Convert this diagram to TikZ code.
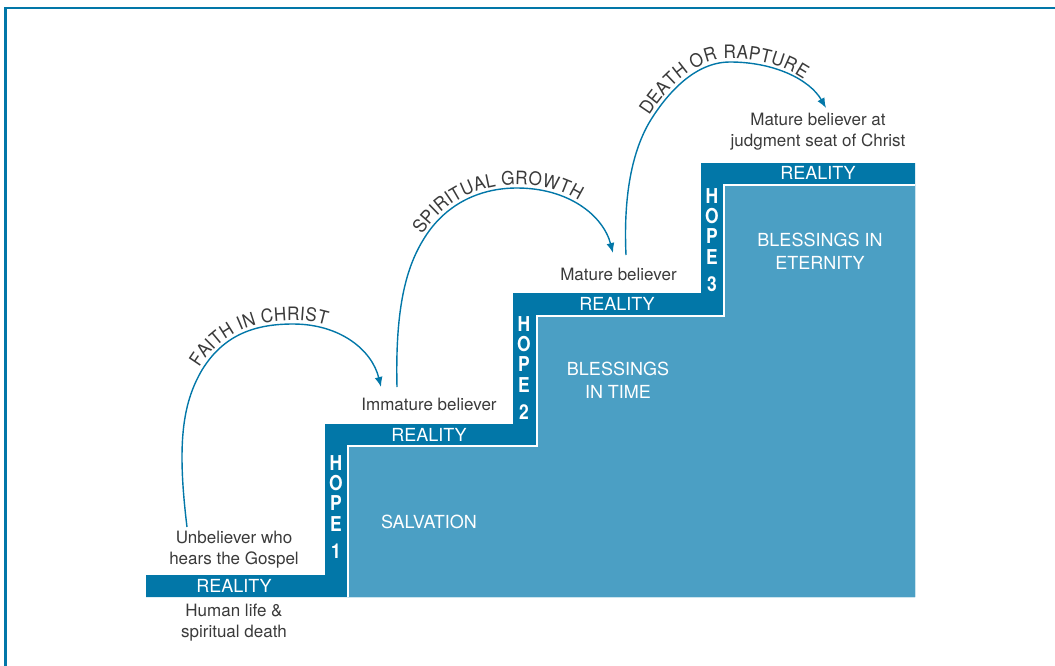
\documentclass[tikz,border=0pt]{standalone}
\usepackage{fontspec}
\setmainfont{TeX Gyre Heros}
\newfontfamily\arcfam{TeX Gyre Heros}[FakeStretch=0.93]
\newfontfamily\hopefam{TeX Gyre Heros}[FakeStretch=0.85]
\usetikzlibrary{arrows.meta,decorations.text}
\definecolor{stepdark}{HTML}{0277A8}
\definecolor{steplight}{HTML}{4B9FC4}
\definecolor{txtgray}{HTML}{3A3A3A}
\newcommand\arcfont{\arcfam\fontsize{18.5}{18.5}\selectfont}
\tikzset{
  reality/.style={text=white,font=\fontsize{18}{18}\selectfont,inner sep=0pt},
  darktext/.style={text=txtgray,font=\fontsize{17}{21}\selectfont,align=center,inner sep=0pt},
  areatext/.style={text=white,font=\fontsize{18}{23}\selectfont,align=center,inner sep=0pt},
  hope/.style={text=white,font=\hopefam\bfseries\fontsize{20.5}{20.3}\selectfont,align=center,anchor=north,inner sep=0pt},
  jump/.style={stepdark,line width=1.4pt,-{Latex[length=10pt,width=8pt]}},
  jumptext/.style={decorate,decoration={text along path,text color=txtgray,raise=3.5pt,text={#1}}}
}
\begin{document}
\begin{tikzpicture}[x=1pt,y=-1pt]
\useasboundingbox (0,0) rectangle (1055,665);
% frame
\draw[stepdark,line width=2.6pt] (5.5,680) -- (5.5,8) -- (1070,8);
% steps
\fill[stepdark] (146,597) -- (146,575) -- (325,575) -- (325,424) -- (513,424) -- (513,293)
  -- (701,293) -- (701,163) -- (915,163) -- (915,597) -- cycle;
\fill[steplight] (348,597) -- (348,446) -- (537,446) -- (537,316) -- (724,316) -- (724,185)
  -- (915,185) -- (915,597) -- cycle;
\draw[white,line width=1.3pt] (348,597) -- (348,446) -- (537,446) -- (537,316) -- (724,316)
  -- (724,185) -- (915,185);
% bars
\node[reality] (real1) at (234,586) {REALITY};
\node[reality] (real2) at (429,435) {REALITY};
\node[reality] (real3) at (617,304) {REALITY};
\node[reality] (real4) at (818,173) {REALITY};
\node[hope] (hope1) at (336,455) {H\\O\\P\\E\\[6.7pt]1};
\node[hope] (hope2) at (524,316) {H\\O\\P\\E\\[6.7pt]2};
\node[hope] (hope3) at (712,188) {H\\O\\P\\E\\[6.7pt]3};
% areas
\node[areatext] (salv) at (429,522) {SALVATION};
\node[areatext] (time) at (618,380.5) {BLESSINGS\\IN TIME};
\node[areatext] (etern) at (820,251.5) {BLESSINGS IN\\ETERNITY};
% people
\node[darktext] (unbel) at (234,549.5) {Unbeliever who\\hears the Gospel};
\node[darktext] (human) at (234,623) {Human life \&\\spiritual death};
\node[darktext,anchor=base] (immat) at (429,410) {Immature believer};
\node[darktext,anchor=base] (mature) at (618.5,280) {Mature believer};
\node[darktext] (judge) at (818,132) {Mature believer at\\judgment seat of Christ};
% jumps
\coordinate (j1a) at (187,527);
\coordinate (j1b) at (381,387);
\coordinate (j2a) at (397,387);
\coordinate (j2b) at (613,253);
\coordinate (j3a) at (626,255);
\coordinate (j3b) at (826,108);
\draw[jump] (j1a) .. controls (177,445) and (182,404) .. (202,370)
  .. controls (224,334) and (256,324) .. (293,324)
  .. controls (340,324) and (372,350) .. (j1b);
\path[jumptext={|\arcfont|FAITH IN CHRIST}] (202,370)
  .. controls (224,334) and (256,324) .. (293,324)
  .. controls (340,324) and (372,350) .. (j1b);
\draw[jump] (j2a) .. controls (395,305) and (407,265) .. (425,237)
  .. controls (444,207) and (476,188) .. (517,188)
  .. controls (568,188) and (603,215) .. (j2b);
\path[jumptext={|\arcfont|SPIRITUAL GROWTH}] (425,237)
  .. controls (444,207) and (476,188) .. (517,188)
  .. controls (568,188) and (603,215) .. (j2b);
\draw[jump] (j3a) .. controls (623,190) and (634,146) .. (652,118)
  .. controls (668,93) and (695,62) .. (730,62)
  .. controls (775,62) and (810,80) .. (j3b);
\path[jumptext={|\arcfont|DEATH OR RAPTURE}] (652,118)
  .. controls (668,93) and (695,62) .. (730,62)
  .. controls (775,62) and (810,80) .. (j3b);
\end{tikzpicture}
\end{document}
